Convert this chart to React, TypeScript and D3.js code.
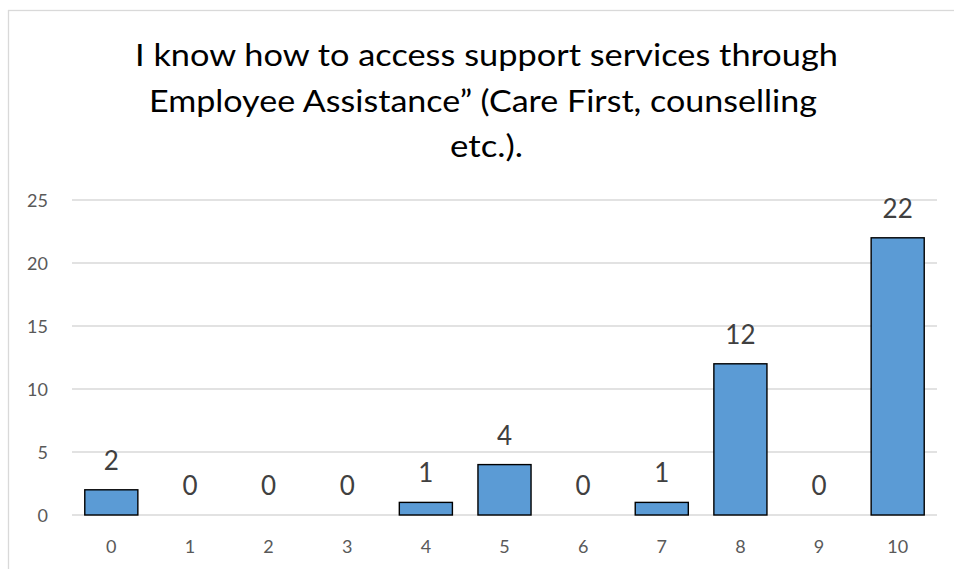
import React from "react";
import * as d3 from "d3";

const categories = ["0", "1", "2", "3", "4", "5", "6", "7", "8", "9", "10"];
const counts = [2, 0, 0, 0, 1, 4, 0, 1, 12, 0, 22];
const yTicks = [0, 5, 10, 15, 20, 25];
const titleLines = [
  "I know how to access support services through",
  "Employee Assistance\u201d (Care First, counselling",
  "etc.).",
];

const W = 954;
const H = 569;
const plot = { left: 72, right: 937, top: 200, bottom: 515 };

export default function App() {
  const x = d3
    .scaleBand<string>()
    .domain(categories)
    .range([plot.left, plot.right])
    .paddingInner(0.325)
    .paddingOuter(0.1625);
  const y = d3.scaleLinear().domain([0, 25]).range([plot.bottom, plot.top]);
  const font = "Lato, 'Open Sans', 'DejaVu Sans', sans-serif";
  const titleX = [486.5, 483, 486.5];
  const titleY = [66, 112, 157];
  const titleW = [703, 668, 73];

  return (
    <svg
      width={W}
      height={H}
      style={{ position: "absolute", left: 0, top: 0, display: "block" }}
      fontFamily={font}
    >
      <rect x={0} y={0} width={W} height={H} fill="#fff" />
      <rect x={8.5} y={10.5} width={1000} height={700} fill="#fff" stroke="#D9D9D9" strokeWidth={1.3} />
      {titleLines.map((t, i) => (
        <text
          key={i}
          x={titleX[i]}
          y={titleY[i]}
          textAnchor="middle"
          fontSize={31}
          fill="#000"
          textLength={titleW[i]}
          lengthAdjust="spacingAndGlyphs"
        >
          {t}
        </text>
      ))}
      {yTicks.map((t) => (
        <g key={t}>
          <line x1={plot.left} x2={plot.right} y1={y(t)} y2={y(t)} stroke="#D9D9D9" strokeWidth={1.3} />
          <text x={48} y={y(t) + 7} textAnchor="end" fontSize={18} fill="#595959">
            {t}
          </text>
        </g>
      ))}
      {categories.map((c, i) => {
        const bx = x(c)!;
        const bw = x.bandwidth();
        const v = counts[i];
        return (
          <g key={c}>
            {v > 0 && (
              <rect
                x={bx}
                y={y(v)}
                width={bw}
                height={y(0) - y(v)}
                fill="#5B9BD5"
                stroke="#000"
                strokeWidth={1.4}
              />
            )}
            <text x={bx + bw / 2} y={y(v) - 20} textAnchor="middle" fontSize={26} fill="#404040">
              {v}
            </text>
            <text x={bx + bw / 2} y={553} textAnchor="middle" fontSize={18} fill="#595959">
              {c}
            </text>
          </g>
        );
      })}
    </svg>
  );
}
